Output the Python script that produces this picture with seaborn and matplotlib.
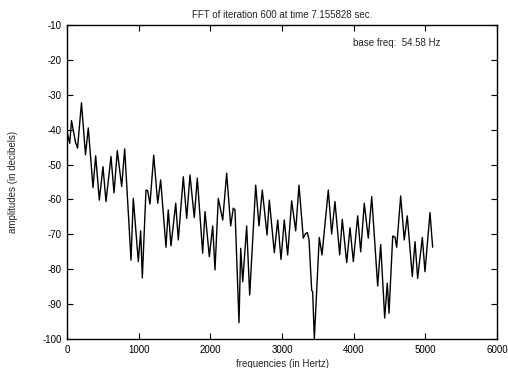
import matplotlib
matplotlib.use("Agg")
import matplotlib.pyplot as plt
import seaborn as sns
import pandas as pd

# Extrema (and a few shoulder points)
freq_hz = [0, 38, 63, 121, 133, 147, 202, 258, 297, 363, 400, 451, 502, 544, 614,
           656, 702, 763, 805, 893, 925, 995, 1028, 1051, 1102, 1126, 1158, 1210,
           1266, 1307, 1381, 1413, 1451, 1517, 1553, 1623, 1670, 1716, 1776, 1818,
           1893, 1926, 1986, 2033, 2065, 2111, 2173, 2228, 2284, 2320, 2344, 2400,
           2424, 2452, 2507, 2549, 2633, 2679, 2725, 2791, 2823, 2893, 2940, 2986,
           3032, 3079, 3135, 3191, 3237, 3297, 3328, 3353, 3377, 3414, 3428, 3451,
           3520, 3558, 3646, 3693, 3739, 3805, 3841, 3903, 3949, 3995, 4056, 4098,
           4148, 4204, 4252, 4335, 4377, 4433, 4469, 4493, 4545, 4577, 4600, 4656,
           4706, 4748, 4818, 4856, 4893, 4958, 4995, 5065, 5102]
amp_db = [-40.6, -43.9, -37.4, -43.9, -44.3, -45.3, -32.3, -47.2, -39.5, -56.6, -47.5,
          -60.2, -50.6, -60.6, -47.7, -58.1, -46.0, -56.3, -45.5, -77.4, -59.7, -77.8,
          -69.0, -82.5, -57.3, -57.5, -61.3, -47.3, -61.1, -54.4, -73.7, -63.0, -73.3,
          -61.1, -71.6, -53.5, -65.4, -53.0, -65.2, -53.9, -75.4, -63.5, -76.4, -67.6,
          -80.2, -59.7, -65.9, -52.5, -67.6, -62.5, -63.0, -95.3, -74.0, -83.6, -67.6,
          -87.4, -55.9, -67.6, -57.3, -70.2, -60.2, -75.3, -65.9, -77.2, -65.9, -75.9,
          -60.4, -69.0, -55.9, -71.1, -69.8, -69.5, -71.5, -86.0, -86.5, -100.0, -70.9,
          -75.9, -57.3, -69.9, -60.6, -75.9, -65.7, -78.1, -68.1, -77.8, -64.7, -75.0,
          -61.1, -71.1, -59.2, -84.8, -72.9, -94.0, -84.0, -92.6, -70.5, -70.8, -73.7,
          -59.0, -71.6, -64.7, -82.1, -72.1, -82.6, -70.9, -80.7, -63.8, -73.7]

x_ticks = [0, 1000, 2000, 3000, 4000, 5000, 6000]
y_ticks = [-100, -90, -80, -70, -60, -50, -40, -30, -20, -10]

title = "FFT of iteration 600 at time 7.155828 sec."
note = "base freq:  54.58 Hz"

sns.set_style("ticks")
plt.rcParams["font.family"] = ["Liberation Sans", "DejaVu Sans"]
plt.rcParams["axes.unicode_minus"] = False

df = pd.DataFrame({"freq": freq_hz, "amp": amp_db})

fig = plt.figure(figsize=(5.08, 3.68), dpi=100)
ax = fig.add_axes([67 / 508, 1 - 339 / 368, 430 / 508, 314 / 368])
sns.lineplot(data=df, x="freq", y="amp", ax=ax, color="black", linewidth=1.0,
             sort=False, estimator=None, solid_joinstyle="round")

ax.set_xlim(0, 6000)
ax.set_ylim(-100, -10)
ax.set_xticks(x_ticks)
ax.set_yticks(y_ticks)
ax.tick_params(direction="in", length=4, width=0.8, labelsize=7, colors="black",
               top=True, right=True, pad=4)
for s in ax.spines.values():
    s.set_visible(True)
    s.set_linewidth(1.0)
    s.set_color("black")

ax.set_xlabel("frequencies (in Hertz)", fontsize=7)
ax.xaxis.set_label_coords(0.5, -0.065)
ax.set_ylabel("amplitudes (in decibels)", fontsize=7)
ax.yaxis.set_label_coords(-0.115, 0.5)
ax.set_title(title, fontsize=7, pad=5)
ax.text(0.665, 0.943, note, transform=ax.transAxes, fontsize=7, va="center", ha="left")

fig.savefig("out.png", dpi=100)
